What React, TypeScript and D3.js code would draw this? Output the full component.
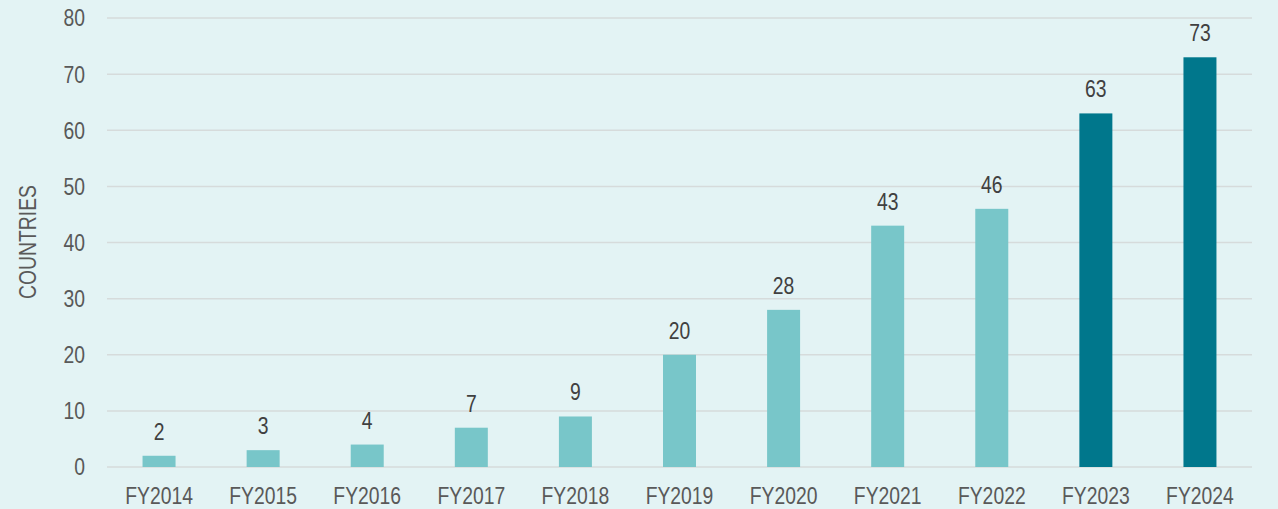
import React from "react";
import * as d3 from "d3";

const categories = ["FY2014", "FY2015", "FY2016", "FY2017", "FY2018", "FY2019", "FY2020", "FY2021", "FY2022", "FY2023", "FY2024"];
const values = [2, 3, 4, 7, 9, 20, 28, 43, 46, 63, 73];
const highlighted = ["FY2023", "FY2024"];
const yTicks = [0, 10, 20, 30, 40, 50, 60, 70, 80];
const yLabel = "COUNTRIES";

const W = 1278;
const H = 509;
const FONT = "'Liberation Sans', Arial, sans-serif";
const SX = 0.83;
const FS = 23.3;

function NText({ x, y, anchor, fill, rotate = 0, dy, children }: any) {
  return (
    <g transform={`translate(${x},${y}) rotate(${rotate}) scale(${SX},1)`}>
      <text x={0} y={0} dy={dy} textAnchor={anchor} fontFamily={FONT} fontSize={FS} fill={fill}>
        {children}
      </text>
    </g>
  );
}

export default function App() {
  const x = d3.scaleBand<string>().domain(categories).range([107, 1252]).paddingInner(0.683).paddingOuter(0.3415);
  const y = d3.scaleLinear().domain([0, 80]).range([467, 18]);
  return (
    <svg width={W} height={H} style={{ position: "absolute", left: 0, top: 0, display: "block" }}>
      <rect x={0} y={0} width={W} height={H} fill="#e3f3f4" />
      {yTicks.map((t) => (
        <g key={t}>
          <line x1={107} x2={1252} y1={y(t)} y2={y(t)} stroke="#d6dbdb" strokeWidth={1.5} />
          <NText x={85} y={y(t)} dy="0.36em" anchor="end" fill="#595959">
            {t}
          </NText>
        </g>
      ))}
      {categories.map((c, i) => {
        const cx = (x(c) as number) + x.bandwidth() / 2;
        return (
          <g key={c}>
            <rect
              x={x(c)}
              y={y(values[i])}
              width={x.bandwidth()}
              height={y(0) - y(values[i])}
              fill={highlighted.includes(c) ? "#00778c" : "#78c6c9"}
            />
            <NText x={cx} y={y(values[i]) - 16} anchor="middle" fill="#404040">
              {values[i]}
            </NText>
            <NText x={cx} y={504} anchor="middle" fill="#595959">
              {c}
            </NText>
          </g>
        );
      })}
      <NText x={36} y={242} rotate={-90} anchor="middle" fill="#595959">
        {yLabel}
      </NText>
    </svg>
  );
}
